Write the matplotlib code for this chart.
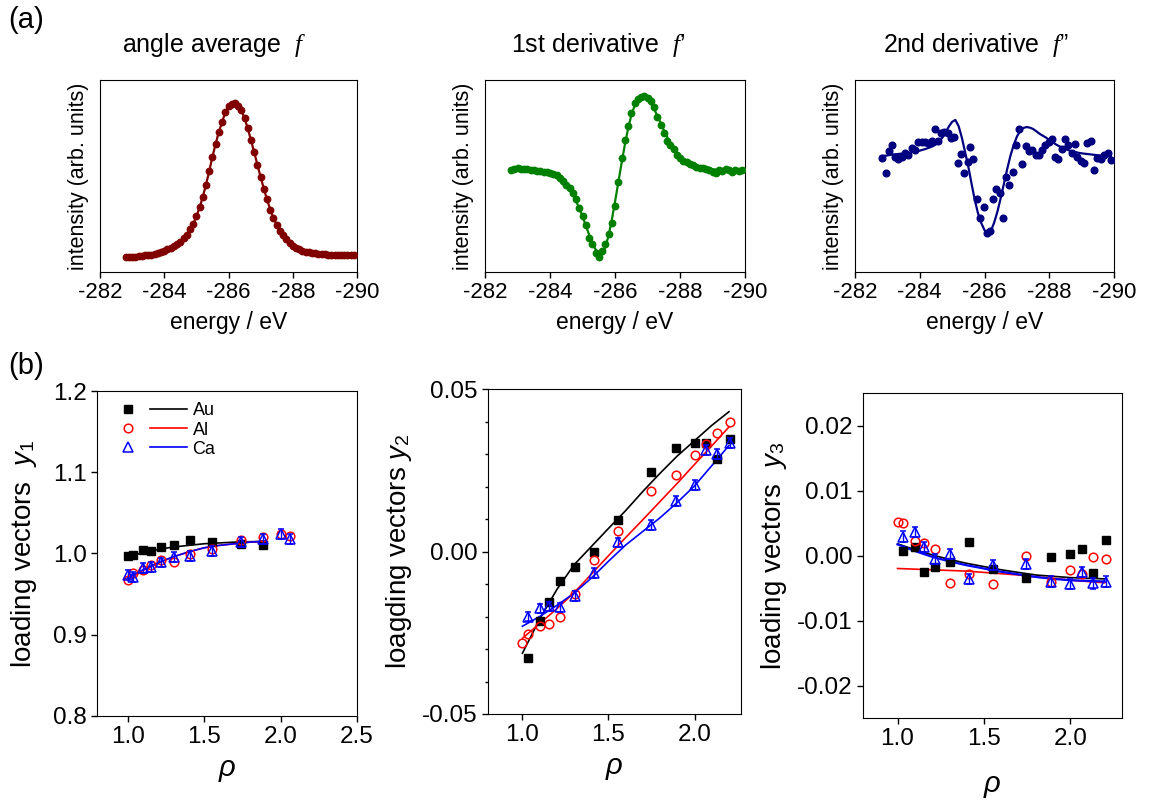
import matplotlib
matplotlib.use("Agg")
import matplotlib.pyplot as plt
from matplotlib.lines import Line2D
from matplotlib.legend_handler import HandlerTuple
from matplotlib.ticker import MultipleLocator, FormatStrFormatter

plt.rcParams["font.family"] = ["Liberation Sans", "DejaVu Sans"]
plt.rcParams["mathtext.fontset"] = "custom"
plt.rcParams["mathtext.rm"] = "Liberation Sans"
plt.rcParams["mathtext.it"] = "Liberation Serif:italic"
plt.rcParams["mathtext.sf"] = "Liberation Sans:italic"
plt.rcParams["axes.unicode_minus"] = False

# ---- (a) spectra: energy grid (eV) and normalised intensities ----
energy = [
    -282.8, -282.9, -283.0, -283.1, -283.2, -283.3, -283.4, -283.5, -283.6, -283.7,
    -283.8, -283.9, -284.0, -284.1, -284.2, -284.3, -284.4, -284.5, -284.6, -284.7,
    -284.8, -284.9, -285.0, -285.1, -285.2, -285.3, -285.4, -285.5, -285.6, -285.7,
    -285.8, -285.9, -286.0, -286.1, -286.2, -286.3, -286.4, -286.5, -286.6, -286.7,
    -286.8, -286.9, -287.0, -287.1, -287.2, -287.3, -287.4, -287.5, -287.6, -287.7,
    -287.8, -287.9, -288.0, -288.1, -288.2, -288.3, -288.4, -288.5, -288.6, -288.7,
    -288.8, -288.9, -289.0, -289.1, -289.2, -289.3, -289.4, -289.5, -289.6, -289.7,
    -289.8, -289.9,
]
avg_f = [
    0.077, 0.078, 0.079, 0.080, 0.082, 0.084, 0.086, 0.088, 0.090, 0.094,
    0.098, 0.104, 0.111, 0.118, 0.126, 0.135, 0.145, 0.158, 0.175, 0.195,
    0.222, 0.250, 0.290, 0.336, 0.392, 0.455, 0.525, 0.600, 0.668, 0.730,
    0.780, 0.832, 0.862, 0.876, 0.878, 0.866, 0.842, 0.800, 0.748, 0.686,
    0.624, 0.558, 0.495, 0.433, 0.378, 0.325, 0.280, 0.246, 0.216, 0.191,
    0.170, 0.152, 0.138, 0.127, 0.118, 0.111, 0.106, 0.102, 0.099, 0.097,
    0.095, 0.093, 0.092, 0.091, 0.090, 0.090, 0.089, 0.089, 0.089, 0.089,
    0.089, 0.089,
]
d1_data = [
    0.533, 0.537, 0.540, 0.538, 0.536, 0.534, 0.531, 0.530, 0.528, 0.526,
    0.523, 0.521, 0.517, 0.512, 0.505, 0.490, 0.472, 0.455, 0.437, 0.414,
    0.380, 0.335, 0.290, 0.245, 0.178, 0.145, 0.100, 0.078, 0.110, 0.148,
    0.200, 0.255, 0.345, 0.470, 0.595, 0.690, 0.760, 0.830, 0.882, 0.903,
    0.914, 0.917, 0.908, 0.892, 0.858, 0.808, 0.765, 0.725, 0.683, 0.660,
    0.640, 0.610, 0.592, 0.580, 0.572, 0.562, 0.557, 0.548, 0.540, 0.544,
    0.535, 0.530, 0.522, 0.517, 0.531, 0.528, 0.536, 0.533, 0.522, 0.530,
    0.527, 0.531,
]
d1_fit = [
    0.530, 0.530, 0.529, 0.528, 0.527, 0.526, 0.524, 0.522, 0.520, 0.517,
    0.514, 0.510, 0.505, 0.498, 0.490, 0.480, 0.466, 0.449, 0.428, 0.402,
    0.370, 0.332, 0.290, 0.243, 0.196, 0.153, 0.118, 0.097, 0.098, 0.128,
    0.188, 0.270, 0.365, 0.465, 0.565, 0.660, 0.745, 0.815, 0.865, 0.897,
    0.912, 0.912, 0.900, 0.878, 0.850, 0.815, 0.778, 0.740, 0.705, 0.672,
    0.645, 0.622, 0.603, 0.588, 0.576, 0.566, 0.558, 0.552, 0.547, 0.543,
    0.540, 0.537, 0.535, 0.534, 0.533, 0.532, 0.531, 0.531, 0.530, 0.530,
    0.530, 0.530,
]
d2_fit = [
    0.604, 0.605, 0.607, 0.610, 0.612, 0.614, 0.616, 0.617, 0.619, 0.622,
    0.625, 0.628, 0.632, 0.637, 0.642, 0.648, 0.655, 0.664, 0.680, 0.700,
    0.728, 0.758, 0.782, 0.792, 0.760, 0.700, 0.625, 0.549, 0.460, 0.375,
    0.305, 0.255, 0.218, 0.202, 0.215, 0.258, 0.315, 0.385, 0.460, 0.535,
    0.605, 0.660, 0.705, 0.735, 0.750, 0.755, 0.752, 0.745, 0.733, 0.720,
    0.710, 0.700, 0.688, 0.677, 0.665, 0.656, 0.647, 0.640, 0.634, 0.629,
    0.625, 0.621, 0.618, 0.616, 0.614, 0.612, 0.610, 0.608, 0.607, 0.606,
    0.605, 0.604,
]
d2_energy = [
    -282.84, -282.95, -283.05, -283.15, -283.23, -283.34, -283.44, -283.54, -283.65, -283.75,
    -283.85, -283.95, -284.06, -284.16, -284.26, -284.37, -284.47, -284.57, -284.65, -284.76,
    -284.86, -284.96, -285.07, -285.17, -285.27, -285.37, -285.48, -285.56, -285.66, -285.77,
    -285.87, -285.97, -286.07, -286.16, -286.26, -286.36, -286.47, -286.57, -286.67, -286.77,
    -286.88, -286.98, -287.06, -287.16, -287.27, -287.37, -287.47, -287.58, -287.68, -287.78,
    -287.88, -287.99, -288.09, -288.17, -288.28, -288.38, -288.48, -288.58, -288.69, -288.79,
    -288.87, -288.98, -289.08, -289.18, -289.28, -289.39, -289.49, -289.59, -289.70, -289.80,
    -289.90,
]
d2_data = [
    0.592, 0.517, 0.630, 0.661, 0.597, 0.587, 0.601, 0.622, 0.609, 0.644,
    0.635, 0.679, 0.679, 0.679, 0.674, 0.684, 0.743, 0.684, 0.722, 0.731,
    0.722, 0.696, 0.701, 0.566, 0.615, 0.514, 0.575, 0.653, 0.587, 0.378,
    0.280, 0.340, 0.205, 0.215, 0.378, 0.431, 0.413, 0.283, 0.497, 0.453,
    0.523, 0.661, 0.743, 0.561, 0.656, 0.632, 0.635, 0.609, 0.609, 0.635,
    0.661, 0.679, 0.691, 0.597, 0.587, 0.639, 0.691, 0.661, 0.618, 0.665,
    0.597, 0.580, 0.569, 0.674, 0.684, 0.531, 0.592, 0.587, 0.609, 0.622,
    0.583,
]

# ---- (b) loading vectors vs rho ----
rho_y1 = [1.0, 1.035, 1.10, 1.15, 1.217, 1.304, 1.41, 1.554, 1.739, 1.883, 2.0, 2.06]
au_y1 = [0.997, 0.998, 1.004, 1.003, 1.008, 1.010, 1.017, 1.014, 1.012, 1.011]
al_y1 = [0.967, 0.976, 0.980, 0.986, 0.992, 0.990, 0.999, 1.006, 1.017, 1.020, 1.024, 1.021]
ca_y1 = [0.974, 0.971, 0.982, 0.983, 0.989, 0.996, 0.997, 1.003, 1.014, 1.018, 1.024, 1.018]
ca_y1_err = [0.006] * 12
rho_fit_y1 = [1.0, 1.1, 1.2, 1.3, 1.4, 1.5, 1.6, 1.7, 1.8, 1.9]
au_fit_y1 = [0.996, 1.001, 1.005, 1.008, 1.010, 1.012, 1.013, 1.014, 1.0145, 1.015]
al_fit_y1 = [0.968, 0.979, 0.988, 0.996, 1.002, 1.007, 1.010, 1.012, 1.014, 1.015]
ca_fit_y1 = [0.970, 0.980, 0.989, 0.996, 1.002, 1.007, 1.010, 1.012, 1.014, 1.015]

rho13 = [1.033, 1.10, 1.153, 1.217, 1.304, 1.414, 1.555, 1.745, 1.89, 2.0, 2.068, 2.13, 2.207]
rho14 = [1.0, 1.033, 1.10, 1.153, 1.217, 1.304, 1.414, 1.555, 1.745, 1.89, 2.0, 2.068, 2.13, 2.207]
au_y2 = [-0.0329, -0.0213, -0.0155, -0.0090, -0.0047, 0.0000, 0.0098, 0.0244, 0.0319,
         0.0333, 0.0333, 0.0284, 0.0346]
al_y2 = [-0.0280, -0.0254, -0.0229, -0.0222, -0.0200, -0.0131, -0.0027, 0.0062, 0.0187,
         0.0236, 0.0297, 0.0332, 0.0366, 0.0397]
ca_y2 = [-0.0200, -0.0175, -0.0169, -0.0172, -0.0136, -0.0065, 0.0028, 0.0082, 0.0155,
         0.0204, 0.0313, 0.0299, 0.0335]
ca_y2_err = [0.0015] * 13
rho_fit = [1.0, 1.1, 1.2, 1.3, 1.4, 1.5, 1.6, 1.7, 1.8, 1.9, 2.0, 2.1, 2.2]
au_fit_y2 = [-0.0313, -0.0208, -0.0117, -0.0041, 0.0015, 0.0071, 0.0126, 0.0185, 0.0241,
             0.0294, 0.0341, 0.0388, 0.0430]
al_fit_y2 = [-0.0267, -0.0222, -0.0176, -0.0127, -0.0070, -0.0013, 0.0043, 0.0098, 0.0154,
             0.0210, 0.0268, 0.0325, 0.0383]
ca_fit_y2 = [-0.0230, -0.0200, -0.0166, -0.0128, -0.0082, -0.0030, 0.0020, 0.0062, 0.0104,
             0.0151, 0.0202, 0.0264, 0.0326]

au_y3 = [0.0007, 0.0013, -0.0026, -0.0017, -0.0010, 0.0021, -0.0021, -0.0035, -0.0003,
         0.0002, 0.0010, -0.0027, 0.0024]
al_y3 = [0.0052, 0.0050, 0.0023, 0.0020, 0.0010, -0.0043, -0.0029, -0.0044, 0.0000,
         -0.0040, -0.0022, -0.0028, -0.0002, -0.0006]
ca_y3 = [0.0029, 0.0036, 0.0013, -0.0005, 0.0002, -0.0036, -0.0015, -0.0013, -0.0040,
         -0.0044, -0.0025, -0.0043, -0.0040]
ca_y3_err = [0.0008] * 13
au_fit_y3 = [0.0018, 0.0009, 0.0001, -0.0006, -0.0012, -0.0017, -0.0022, -0.0026, -0.0030,
             -0.0032, -0.0034, -0.0035, -0.0036]
al_fit_y3 = [-0.0020, -0.0021, -0.0022, -0.0023, -0.0024, -0.0026, -0.0028, -0.0030, -0.0033,
             -0.0035, -0.0038, -0.0040, -0.0042]
ca_fit_y3 = [0.0017, 0.0007, -0.0002, -0.0009, -0.0015, -0.0020, -0.0025, -0.0029, -0.0033,
             -0.0036, -0.0038, -0.0039, -0.0040]

W, H = 1161, 808
fig = plt.figure(figsize=(W / 100, H / 100), dpi=100)


def add_ax(l, t, r, b):
    return fig.add_axes([l / W, 1 - b / H, (r - l) / W, (b - t) / H])


# ---- row (a) ----
top = [
    ((100, 80, 357, 272), avg_f, avg_f, None, None, "#800000", "angle average  $f$", 214),
    ((485, 80, 745, 272), d1_data, d1_fit, None, None, "#008000", "1st derivative  $f$\u2019", 598),
    ((855, 80, 1114, 272), None, d2_fit, d2_energy, d2_data, "#000080", "2nd derivative  $f$\u201d", 976),
]
for box, ydata, yfit, xs, ys, col, title, tx in top:
    ax = add_ax(*box)
    ax.plot(energy, yfit, color=col, lw=1.6, zorder=2)
    if ydata is not None:
        ax.plot(energy, ydata, "o", color=col, ms=4.6, zorder=3)
    else:
        ax.plot(xs, ys, "o", color=col, ms=4.8, zorder=3)
    ax.set_xlim(-282, -290)
    ax.set_ylim(0, 1)
    ax.set_xticks([-282, -284, -286, -288, -290])
    ax.xaxis.set_major_formatter(FormatStrFormatter("%d"))
    ax.tick_params(axis="x", direction="out", length=4, width=1, labelsize=16, pad=3)
    ax.tick_params(axis="y", left=False, labelleft=False)
    ax.set_xlabel("energy / eV", fontsize=16.5, labelpad=6)
    ax.set_ylabel("intensity (arb. units)", fontsize=15.5, labelpad=8)
    fig.text(tx / W, 1 - 45 / H, title, fontsize=18, ha="center", va="center")

fig.text(8 / W, 1 - 20 / H, "(a)", fontsize=21, ha="left", va="center")
fig.text(8 / W, 1 - 366 / H, "(b)", fontsize=21, ha="left", va="center")

# ---- row (b) ----
sq = dict(marker="s", ls="none", color="black", ms=5.2, zorder=3)
ci = dict(marker="o", ls="none", mfc="none", mec="red", mew=1.1, ms=6.2, zorder=3)
tri = dict(fmt="^", mfc="none", mec="blue", mew=1.1, ms=7, ecolor="blue",
           elinewidth=1, capsize=2.2, capthick=1, zorder=4)


def style_b(ax, ylabel, pad):
    ax.tick_params(direction="out", length=4, width=1, labelsize=17.5)
    ax.tick_params(which="minor", direction="out", length=2.5, width=1)
    ax.set_xlabel("\u03c1", fontsize=21, style="italic", labelpad=4)
    ax.set_ylabel(ylabel, fontsize=20, labelpad=pad)


b1 = add_ax(97, 391, 357, 716)
b1.plot(rho_fit_y1, au_fit_y1, color="black", lw=1.2, zorder=2)
b1.plot(rho_fit_y1, al_fit_y1, color="red", lw=1.2, zorder=2)
b1.plot(rho_fit_y1, ca_fit_y1, color="blue", lw=1.2, zorder=2)
b1.plot(rho_y1[:len(au_y1)], au_y1, **sq)
b1.plot(rho_y1, al_y1, **ci)
b1.errorbar(rho_y1, ca_y1, yerr=ca_y1_err, **tri)
b1.set_xlim(0.8, 2.5)
b1.set_ylim(0.8, 1.2)
b1.set_xticks([1.0, 1.5, 2.0, 2.5])
b1.set_yticks([0.8, 0.9, 1.0, 1.1, 1.2])
b1.xaxis.set_major_formatter(FormatStrFormatter("%.1f"))
b1.yaxis.set_major_formatter(FormatStrFormatter("%.1f"))
style_b(b1, "loading vectors  $\\mathsf{y}_1$", 10)

handles = [
    (Line2D([], [], marker="s", ls="none", color="black", ms=5.2), Line2D([], [], color="black", lw=1.2)),
    (Line2D([], [], marker="o", ls="none", mfc="none", mec="red", mew=1.1, ms=6.2), Line2D([], [], color="red", lw=1.2)),
    (Line2D([], [], marker="^", ls="none", mfc="none", mec="blue", mew=1.1, ms=7), Line2D([], [], color="blue", lw=1.2)),
]
b1.legend(handles, ["Au", "Al", "Ca"], handler_map={tuple: HandlerTuple(ndivide=None, pad=0.2)},
          loc="upper left", bbox_to_anchor=(0.048, 0.965), borderaxespad=0, borderpad=0,
          frameon=False, fontsize=13, handlelength=4.3, handletextpad=0.3, labelspacing=0.12)

b2 = add_ax(488, 389, 741, 714)
b2.plot(rho_fit, au_fit_y2, color="black", lw=1.2, zorder=2)
b2.plot(rho_fit, al_fit_y2, color="red", lw=1.2, zorder=2)
b2.plot(rho_fit, ca_fit_y2, color="blue", lw=1.2, zorder=2)
b2.plot(rho13, au_y2, **sq)
b2.plot(rho14, al_y2, **ci)
b2.errorbar(rho13, ca_y2, yerr=ca_y2_err, **tri)
b2.set_xlim(0.8, 2.27)
b2.set_ylim(-0.05, 0.05)
b2.set_xticks([1.0, 1.5, 2.0])
b2.set_yticks([-0.05, 0.0, 0.05])
b2.yaxis.set_minor_locator(MultipleLocator(0.01))
b2.xaxis.set_major_formatter(FormatStrFormatter("%.1f"))
b2.yaxis.set_major_formatter(FormatStrFormatter("%.2f"))
style_b(b2, "loagding vectors $\\mathsf{y}_2$", 6)

b3 = add_ax(863, 393, 1122, 718)
b3.plot(rho_fit, au_fit_y3, color="black", lw=1.2, zorder=2)
b3.plot(rho_fit, al_fit_y3, color="red", lw=1.2, zorder=2)
b3.plot(rho_fit, ca_fit_y3, color="blue", lw=1.6, zorder=2)
b3.plot(rho13, au_y3, **sq)
b3.plot(rho14, al_y3, **ci)
b3.errorbar(rho13, ca_y3, yerr=ca_y3_err, **tri)
b3.set_xlim(0.8, 2.3)
b3.set_ylim(-0.025, 0.025)
b3.set_xticks([1.0, 1.5, 2.0])
b3.set_yticks([-0.02, -0.01, 0.0, 0.01, 0.02])
b3.xaxis.set_major_formatter(FormatStrFormatter("%.1f"))
b3.yaxis.set_major_formatter(FormatStrFormatter("%.2f"))
style_b(b3, "loading vectors  $\\mathsf{y}_3$", 6)
b3.xaxis.labelpad = 14

fig.savefig("out.png", dpi=100)
